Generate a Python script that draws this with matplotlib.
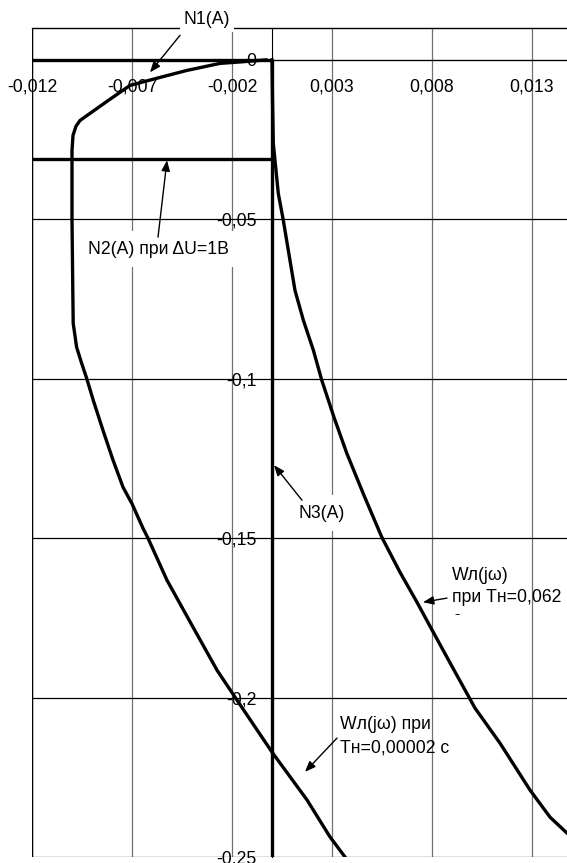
import matplotlib.pyplot as plt
from matplotlib.transforms import Bbox, TransformedBbox

# Wл(jω) при Тн=0,00002 с (left curve)
w1_x = [-0.0003, -0.0015, -0.0026, -0.00425, -0.0056, -0.0071, -0.00825, -0.0096,
        -0.0098, -0.00995, -0.0100, -0.0100, -0.00996, -0.00994, -0.00977, -0.00952,
        -0.00927, -0.00894, -0.00845, -0.00795, -0.00745, -0.0070, -0.00645, -0.0062,
        -0.00525, -0.00395, -0.00275, -0.00175, 0.0, 0.00175, 0.0029, 0.00365]
w1_y = [0.0, -0.0006, -0.0011, -0.0033, -0.0055, -0.0080, -0.0130, -0.0190,
        -0.0208, -0.0237, -0.0284, -0.0500, -0.0723, -0.0826, -0.0901, -0.0951,
        -0.0998, -0.1067, -0.1162, -0.1255, -0.1340, -0.1392, -0.1469, -0.1500,
        -0.1632, -0.1779, -0.1914, -0.2008, -0.2171, -0.2321, -0.2437, -0.2500]

# Wл(jω) при Тн=0,062 с (right curve)
w2_x = [0.0, 0.000025, 0.000065, 0.000315, 0.000565, 0.0009, 0.00115, 0.00157,
        0.00207, 0.00249, 0.0031, 0.00374, 0.0046, 0.00549, 0.0064, 0.00725,
        0.00795, 0.00905, 0.01015, 0.0114, 0.0129, 0.0139, 0.01475, 0.0156]
w2_y = [0.0, -0.0127, -0.0262, -0.0419, -0.0503, -0.0629, -0.0723, -0.0817,
        -0.0911, -0.1005, -0.1121, -0.1234, -0.1366, -0.1497, -0.1607, -0.1701,
        -0.1782, -0.1908, -0.2033, -0.2143, -0.2290, -0.2375, -0.2425, -0.2470]

n1_x = [-0.012, 0.0]
n1_y = [0.0, 0.0]
n2_x = [-0.012, 0.0]
n2_y = [-0.031, -0.031]
n3_x = [0.0, 0.0]
n3_y = [0.0, -0.25]

x_ticks = [-0.012, -0.007, -0.002, 0.003, 0.008, 0.013]
x_labels = ['-0,012', '-0,007', '-0,002', '0,003', '0,008', '0,013']
y_ticks = [0.0, -0.05, -0.1, -0.15, -0.2, -0.25]
y_labels = ['0', '-0,05', '-0,1', '-0,15', '-0,2', '-0,25']


def main():
    plt.rcParams['font.family'] = ['Liberation Sans', 'DejaVu Sans']
    plt.rcParams['font.size'] = 12.7

    fig = plt.figure(figsize=(5.67, 8.63), dpi=100)
    ax = fig.add_axes([32 / 567, 6 / 863, 535 / 567, 829 / 863])
    ax.set_xlim(-0.012, 0.01475)
    ax.set_ylim(-0.25, 0.01)

    # grid
    ax.set_xticks(x_ticks)
    ax.set_xticklabels(x_labels)
    ax.set_yticks(y_ticks)
    ax.set_yticklabels(y_labels)
    ax.grid(axis='x', color='#707070', lw=0.9)
    ax.grid(axis='y', color='black', lw=0.9)
    ax.axvline(-0.012, color='black', lw=1.0)

    # axes through the origin
    ax.spines['left'].set_position(('data', 0))
    ax.spines['bottom'].set_position(('data', 0))
    ax.spines['right'].set_visible(False)
    ax.spines['top'].set_linewidth(1.0)
    ax.tick_params(axis='x', length=0, pad=13.5)
    ax.tick_params(axis='y', length=0, pad=11)

    lw = 2.4
    ax.plot(n1_x, n1_y, color='black', lw=lw, solid_capstyle='butt')
    ax.plot(n2_x, n2_y, color='black', lw=lw, solid_capstyle='butt')
    ax.plot(n3_x, n3_y, color='black', lw=lw, solid_capstyle='butt')
    ax.plot(w1_x, w1_y, color='black', lw=lw, solid_joinstyle='round')
    ax.plot(w2_x, w2_y, color='black', lw=lw, solid_joinstyle='round')

    arrow = dict(arrowstyle='-|>,head_length=0.5,head_width=0.2', color='black', lw=1.0,
                 shrinkA=0, shrinkB=0)
    box = dict(facecolor='white', edgecolor='none', pad=3)

    # labels with arrows
    ax.text(-0.00325, 0.0127, 'N1(A)', ha='center', va='center', bbox=box, clip_on=False)
    ax.annotate('', xy=(-0.0061, -0.0039), xytext=(-0.0046, 0.0077),
                arrowprops=arrow, annotation_clip=False)

    ax.text(-0.0057, -0.0594, 'N2(A) при \u0394U=1В', ha='center', va='center',
            bbox=dict(facecolor='white', edgecolor='none', pad=7))
    ax.annotate('', xy=(-0.00525, -0.0315), xytext=(-0.0057, -0.0556), arrowprops=arrow)

    ax.text(0.0025, -0.1422, 'N3(A)', ha='center', va='center',
            bbox=dict(facecolor='white', edgecolor='none', pad=7))
    ax.annotate('', xy=(0.0001, -0.1271), xytext=(0.0015, -0.1381), arrowprops=arrow)

    # this label's text box is too short, so the last line is cut
    t = ax.text(0.0090, -0.1590, 'Wл(jω)\nпри Тн=0,062\nс', ha='left', va='top',
                linespacing=1.4)
    t.set_clip_on(True)
    t.set_clip_path(None)
    t.set_clip_box(TransformedBbox(Bbox([[0.0088, -0.1742], [0.0148, -0.154]]),
                                   ax.transData))
    ax.annotate('', xy=(0.00755, -0.1701), xytext=(0.00875, -0.1688), arrowprops=arrow)

    ax.text(0.0034, -0.2058, 'Wл(jω) при\nТн=0,00002 с', ha='left', va='top',
            linespacing=1.5)
    ax.annotate('', xy=(0.00165, -0.2233), xytext=(0.00325, -0.2127), arrowprops=arrow)

    fig.savefig('out.png', dpi=100)


if __name__ == '__main__':
    main()
